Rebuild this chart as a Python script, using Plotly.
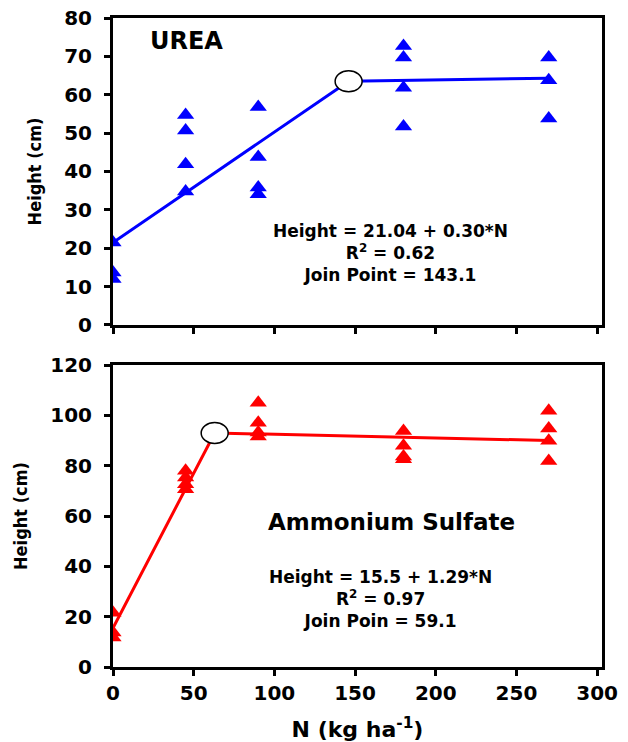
import plotly.graph_objects as go

# ---- data ----
urea_N = [0, 0, 0, 45, 45, 45, 45, 90, 90, 90, 90, 180, 180, 180, 180, 270, 270, 270]
urea_H = [21.5, 13.7, 12.0, 54.7, 50.7, 41.9, 34.8, 56.8, 43.8, 35.8, 34.1,
          72.7, 69.7, 61.8, 51.7, 69.7, 63.8, 53.8]
urea_fit_N = [0, 146, 270]
urea_fit_H = [21.5, 63.5, 64.3]
urea_join = (146, 63.5)

amm_N = [0, 0, 0, 45, 45, 45, 45, 90, 90, 90, 90, 180, 180, 180, 180, 270, 270, 270, 270]
amm_H = [21.6, 13.7, 11.7, 78.0, 75.3, 72.6, 70.6, 105.0, 97.1, 93.2, 91.6,
         93.8, 87.9, 83.6, 82.6, 101.8, 94.8, 89.9, 81.9]
amm_fit_N = [0, 63, 270]
amm_fit_H = [15.5, 93.0, 90.0]
amm_join = (63, 93.0)

x_ticks = [0, 50, 100, 150, 200, 250, 300]
y1_ticks = [0, 10, 20, 30, 40, 50, 60, 70, 80]
y2_ticks = [0, 20, 40, 60, 80, 100, 120]

urea_text = ["Height = 21.04 + 0.30*N", "R<sup>2</sup> = 0.62", "Join Point = 143.1"]
amm_text = ["Height = 15.5 + 1.29*N", "R<sup>2</sup> = 0.97", "Join Poin = 59.1"]

FONT = "DejaVu Sans"
BLUE = "#0000FF"
RED = "#FF0000"

fig = go.Figure()

# top panel (UREA)
fig.add_trace(go.Scatter(x=urea_fit_N, y=urea_fit_H, mode="lines",
                         line=dict(color=BLUE, width=3), xaxis="x", yaxis="y",
                         showlegend=False, hoverinfo="skip"))
fig.add_trace(go.Scatter(x=urea_N, y=urea_H, mode="markers",
                         marker=dict(symbol="triangle-up", size=15, color=BLUE, line=dict(width=0)),
                         xaxis="x", yaxis="y", showlegend=False))
# bottom panel (Ammonium Sulfate)
fig.add_trace(go.Scatter(x=amm_fit_N, y=amm_fit_H, mode="lines",
                         line=dict(color=RED, width=3), xaxis="x2", yaxis="y2",
                         showlegend=False, hoverinfo="skip"))
fig.add_trace(go.Scatter(x=amm_N, y=amm_H, mode="markers",
                         marker=dict(symbol="triangle-up", size=15, color=RED, line=dict(width=0)),
                         xaxis="x2", yaxis="y2", showlegend=False))

# join-point ellipses
for (jx, jy), xr, yr in [(urea_join, "x", "y"), (amm_join, "x2", "y2")]:
    fig.add_shape(type="circle", xref=xr, yref=yr, xsizemode="pixel", ysizemode="pixel",
                  xanchor=jx, yanchor=jy, x0=-13.5, x1=13.5, y0=-10.5, y1=10.5,
                  fillcolor="white", line=dict(color="black", width=1.5), layer="above")

tickfont = dict(family=FONT, size=20, color="black", weight="bold")
common_x = dict(range=[0, 303], tickmode="array", tickvals=x_ticks,
                showline=True, linecolor="black", linewidth=3, mirror=True,
                ticks="outside", ticklen=6, tickwidth=3, tickcolor="black",
                showgrid=False, zeroline=False, tickfont=tickfont, automargin=False)
common_y = dict(showline=True, linecolor="black", linewidth=3, mirror=True,
                ticks="outside", ticklen=6, tickwidth=3, tickcolor="black",
                showgrid=False, zeroline=False, tickfont=tickfont, ticklabelstandoff=8,
                automargin=False)

ytitle_font = dict(family="DejaVu Sans Condensed, Liberation Sans Narrow, DejaVu Sans",
                   size=18, color="black", weight="bold")

fig.update_layout(
    width=628, height=742,
    margin=dict(l=113, r=26, t=18, b=75),
    paper_bgcolor="white", plot_bgcolor="white",
    xaxis=dict(common_x, anchor="y", showticklabels=False),
    yaxis=dict(common_y, domain=[0.527, 1.0], range=[0, 80], tickvals=y1_ticks, anchor="x",
               title=dict(text="Height (cm)", font=ytitle_font, standoff=18)),
    xaxis2=dict(common_x, anchor="y2", matches="x",
                title=dict(text="N (kg ha<sup>-1</sup>)",
                           font=dict(family=FONT, size=22, color="black", weight="bold"),
                           standoff=19)),
    yaxis2=dict(common_y, domain=[0.0, 0.4653], range=[0, 120], tickvals=y2_ticks, anchor="x2",
                title=dict(text="Height (cm)", font=ytitle_font, standoff=18)),
)

def ann(text, x, y, size=17):
    fig.add_annotation(text=text, x=x, y=y, xref="paper", yref="paper",
                       xanchor="center", yanchor="middle", showarrow=False,
                       font=dict(family=FONT, size=size, color="black", weight="bold"))

ann("UREA", 0.150, 0.9649, size=24)
ann("<br>".join(urea_text), 0.5675, 0.6372)
ann("Ammonium Sulfate", 0.5695, 0.2230, size=23)
ann("<br>".join(amm_text), 0.5470, 0.1049)

fig.write_html("out.html")
